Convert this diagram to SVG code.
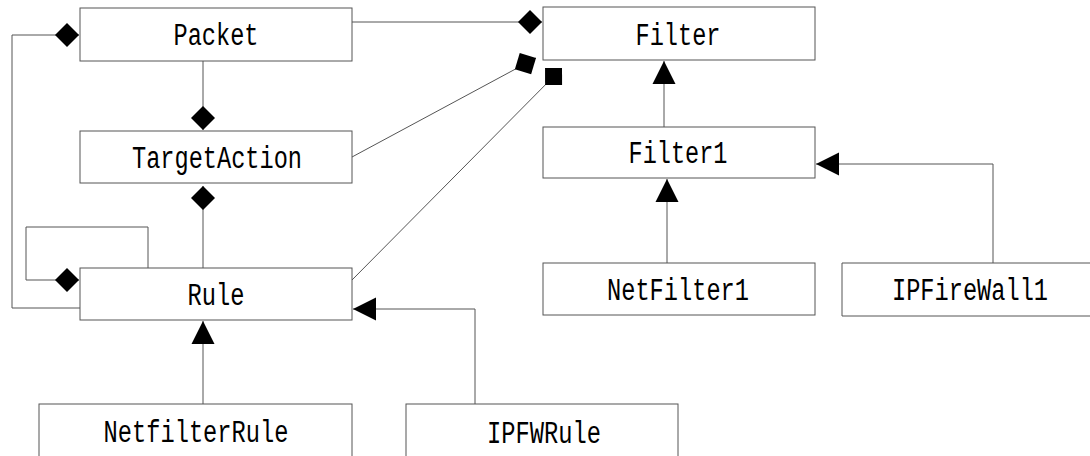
<svg xmlns="http://www.w3.org/2000/svg" width="1090" height="456" viewBox="0 0 1090 456">
<style>
.box{fill:#fff;stroke:#555;stroke-width:1}
.lbl{font-family:"Liberation Mono","DejaVu Sans Mono",monospace;font-size:31px;fill:#000;text-anchor:middle}
.con{fill:none;stroke:#555;stroke-width:1}
.dia{marker-end:url(#diamond)}
.tri{marker-end:url(#triangle)}
</style>
<defs>
<marker id="diamond" markerUnits="userSpaceOnUse" markerWidth="26" markerHeight="26" viewBox="-25 -13 26 26" refX="0" refY="0" orient="auto">
<path d="M0,0 L-12,-12 L-24,0 L-12,12 Z" fill="#000"/>
</marker>
<marker id="triangle" markerUnits="userSpaceOnUse" markerWidth="26" markerHeight="26" viewBox="-25 -13 26 26" refX="0" refY="0" orient="auto">
<path d="M0,0 L-23,-11.5 L-23,11.5 Z" fill="#000"/>
</marker>
</defs>
<rect width="1090" height="456" fill="#fff"/>
<g id="connectors">
<path class="con dia" d="M352,22 H542"/>
<path class="con dia" d="M203,61 V130"/>
<path class="con dia" d="M203,268 V186"/>
<path class="con dia" d="M352,157 L536,58"/>
<path class="con dia" d="M352,280 L562,68"/>
<path class="con dia" d="M148,268 V227 H26 V280 H79"/>
<path class="con dia" d="M80,308 H12 V35 H79"/>
<path class="con tri" d="M203,404 V321"/>
<path class="con tri" d="M475,404 V309 H353"/>
<path class="con tri" d="M664,127 V61"/>
<path class="con tri" d="M667,263 V179"/>
<path class="con tri" d="M993,263 V164 H816"/>
</g>
<g id="Packet"><rect class="box" x="80" y="8" width="272" height="53"/><text class="lbl" x="216" y="45" textLength="85" lengthAdjust="spacingAndGlyphs">Packet</text></g>
<g id="TargetAction"><rect class="box" x="80" y="131" width="272" height="52"/><text class="lbl" x="217" y="168" textLength="170" lengthAdjust="spacingAndGlyphs">TargetAction</text></g>
<g id="Rule"><rect class="box" x="80" y="268" width="272" height="52"/><text class="lbl" x="216" y="305" textLength="57" lengthAdjust="spacingAndGlyphs">Rule</text></g>
<g id="NetfilterRule"><rect class="box" x="39" y="404" width="313" height="60"/><text class="lbl" x="196" y="442" textLength="185" lengthAdjust="spacingAndGlyphs">NetfilterRule</text></g>
<g id="IPFWRule"><rect class="box" x="406" y="404" width="272" height="60"/><text class="lbl" x="544" y="443" textLength="114" lengthAdjust="spacingAndGlyphs">IPFWRule</text></g>
<g id="Filter"><rect class="box" x="543" y="7" width="272" height="53"/><text class="lbl" x="678" y="45" textLength="85" lengthAdjust="spacingAndGlyphs">Filter</text></g>
<g id="Filter1"><rect class="box" x="543" y="127" width="272" height="51"/><text class="lbl" x="678" y="163" textLength="99" lengthAdjust="spacingAndGlyphs">Filter1</text></g>
<g id="NetFilter1"><rect class="box" x="543" y="263" width="272" height="52"/><text class="lbl" x="678" y="300" textLength="142" lengthAdjust="spacingAndGlyphs">NetFilter1</text></g>
<g id="IPFireWall1"><path class="box" d="M1090,263 H842 V316 H1090"/><text class="lbl" x="970" y="300" textLength="156" lengthAdjust="spacingAndGlyphs">IPFireWall1</text></g>
</svg>
